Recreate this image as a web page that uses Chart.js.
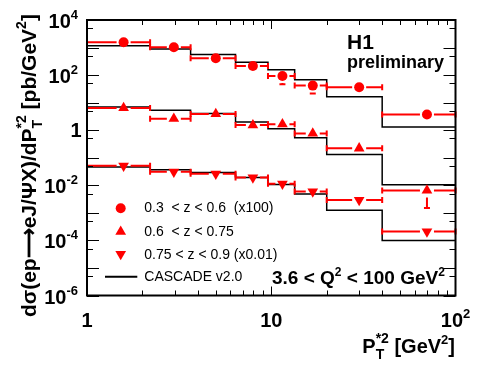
<!DOCTYPE html>
<html>
<head>
<meta charset="utf-8">
<script src="https://cdn.jsdelivr.net/npm/chart.js@4.4.1/dist/chart.umd.min.js"></script>
<style>
    html, body { margin: 0; padding: 0; background: #fff; }
    #wrap { width: 479px; height: 371px; }
</style>
</head>
<body>
<div id="wrap"><canvas id="jpsiChart" width="479" height="371"></canvas></div>
<script>
// P_T*2 bins (GeV^2) and where the points sit inside them
const binEdges = [1, 2.2, 3.65, 6.4, 9.6, 13.4, 20, 40, 100];
const binCentres = [1.58, 2.96, 5.0, 7.95, 11.5, 16.8, 30, 70];

// H1 preliminary data, already scaled like in the legend
const lowZ = [1550, 1020, 410, 215, 93, 41.5, 36, 3.7];          // 0.3 < z < 0.6 (x100)
const lowZErr = [70, 50, 25, 15, 46, 20, 3, 0.3];
const midZ = [6.4, 2.6, 3.9, 1.53, 1.66, 0.76, 0.22, 0.0065];    // 0.6 < z < 0.75
const midZErr = [0.4, 0.2, 0.3, 0.12, 0.15, 0.07, 0.02, 0.005];
const highZ = [0.051, 0.031, 0.026, 0.019, 0.0114, 0.0059, 0.0029, 0.00021]; // 0.75 < z < 0.9 (x0.01)
const highZErr = [0.003, 0.002, 0.002, 0.0015, 0.001, 0.0005, 0.0003, 0.00002];

// CASCADE v2.0 per bin
const cascadeLow = [1170, 890, 560, 293, 158, 68, 16.5, 1.3];
const cascadeMid = [6.9, 5.3, 4.0, 2.0, 1.12, 0.53, 0.13, 0.0105];
const cascadeHigh = [0.046, 0.037, 0.029, 0.019, 0.0108, 0.0048, 0.00123, 0.0001];

// labelled ticks (powers of ten)
const xTickExps = [0, 1, 2];
const yTickExps = [4, 2, 0, -2, -4, -6];

const legendTexts = ['0.3  < z < 0.6  (x100)', '0.6  < z < 0.75', '0.75 < z < 0.9 (x0.01)', 'CASCADE v2.0'];

const RED = '#ff0000';
const FONT = "'Liberation Sans', Arial, Helvetica, sans-serif";
const bold = (px) => 'bold ' + px + 'px ' + FONT;

const series = [
    { values: lowZ, errors: lowZErr },
    { values: midZ, errors: midZErr },
    { values: highZ, errors: highZErr }
];

function histData(vals) {
    // stepped line: one point per left edge plus the last right edge
    return binEdges.map((e, i) => ({ x: e, y: vals[Math.min(i, vals.length - 1)] }));
}
function pointData(vals) {
    return binCentres.map((x, i) => ({ x: x, y: vals[i] }));
}

// text with super/subscripts; a part with stack:true does not advance
function drawRich(ctx, parts, x, y, align) {
    let cx = 0, hold = 0;
    const pos = [];
    parts.forEach(p => {
        ctx.font = p.font;
        const w = ctx.measureText(p.t).width;
        pos.push(cx);
        if (p.stack) { hold = w; }
        else { cx += Math.max(w, hold); hold = 0; }
    });
    let x0 = x;
    if (align === 'center') x0 = x - cx / 2;
    if (align === 'right') x0 = x - cx;
    ctx.textAlign = 'left';
    ctx.textBaseline = 'alphabetic';
    parts.forEach((p, i) => {
        ctx.font = p.font;
        ctx.fillText(p.t, x0 + pos[i], y + (p.dy || 0));
    });
}

function powerLabel(e, big, small, up) {
    if (e === 0) return [{ t: '1', font: bold(big) }];
    if (e === 1) return [{ t: '10', font: bold(big) }];
    return [{ t: '10', font: bold(big) }, { t: String(e), font: bold(small), dy: -up }];
}

function drawMarker(ctx, style, x, y) {
    ctx.beginPath();
    if (style === 'circle') {
        ctx.arc(x, y, 5, 0, Math.PI * 2);
    } else {
        const r = 6.2, s = style === 'up' ? 1 : -1;
        ctx.moveTo(x, y - s * r);
        ctx.lineTo(x - r * 0.866, y + s * r / 2);
        ctx.lineTo(x + r * 0.866, y + s * r / 2);
        ctx.closePath();
    }
    ctx.fill();
}

const errorBarPlugin = {
    id: 'errorBars',
    afterDatasetsDraw(chart) {
        const ctx = chart.ctx, xs = chart.scales.x, ys = chart.scales.y;
        const gap = 7, cap = 3;
        ctx.save();
        ctx.strokeStyle = RED;
        ctx.lineWidth = 2;
        series.forEach(s => {
            s.values.forEach((v, i) => {
                const cx = xs.getPixelForValue(binCentres[i]);
                const cy = ys.getPixelForValue(v);
                const xl = xs.getPixelForValue(binEdges[i]);
                const xr = xs.getPixelForValue(binEdges[i + 1]);
                ctx.beginPath();
                if (cx - gap > xl) { ctx.moveTo(xl, cy); ctx.lineTo(cx - gap, cy); }
                if (cx + gap < xr) { ctx.moveTo(cx + gap, cy); ctx.lineTo(xr, cy); }
                ctx.moveTo(xl, cy - cap); ctx.lineTo(xl, cy + cap);
                ctx.moveTo(xr, cy - cap); ctx.lineTo(xr, cy + cap);
                const yt = ys.getPixelForValue(v + s.errors[i]);
                const yb = ys.getPixelForValue(Math.max(v - s.errors[i], 1e-7));
                if (cy - gap > yt) {
                    ctx.moveTo(cx, cy - gap); ctx.lineTo(cx, yt);
                    ctx.moveTo(cx - cap, yt); ctx.lineTo(cx + cap, yt);
                }
                if (yb > cy + gap) {
                    ctx.moveTo(cx, cy + gap); ctx.lineTo(cx, yb);
                    ctx.moveTo(cx - cap, yb); ctx.lineTo(cx + cap, yb);
                }
                ctx.stroke();
            });
        });
        ctx.restore();
    }
};

const framePlugin = {
    id: 'rootFrame',
    afterDraw(chart) {
        const ctx = chart.ctx, xs = chart.scales.x, ys = chart.scales.y;
        const a = chart.chartArea;
        ctx.save();
        ctx.strokeStyle = '#000';
        ctx.fillStyle = '#000';
        ctx.lineWidth = 2;
        ctx.strokeRect(a.left, a.top, a.right - a.left, a.bottom - a.top);

        // x ticks: 1..9 per decade, inward on bottom and top
        ctx.lineWidth = 1;
        ctx.beginPath();
        [1, 10].forEach(d => {
            for (let k = 1; k <= 9; k++) {
                const px = Math.round(xs.getPixelForValue(k * d)) + 0.5;
                const len = k === 1 ? 9 : 5;
                ctx.moveTo(px, a.bottom); ctx.lineTo(px, a.bottom - len);
                ctx.moveTo(px, a.top); ctx.lineTo(px, a.top + len);
            }
        });
        // y ticks: decades and 5x decades, inward on left and right
        for (let e = -6; e <= 4; e++) {
            const py = Math.round(ys.getPixelForValue(Math.pow(10, e))) + 0.5;
            ctx.moveTo(a.left, py); ctx.lineTo(a.left + 12, py);
            ctx.moveTo(a.right, py); ctx.lineTo(a.right - 12, py);
            if (e < 4) {
                const pm = Math.round(ys.getPixelForValue(5 * Math.pow(10, e))) + 0.5;
                ctx.moveTo(a.left, pm); ctx.lineTo(a.left + 6, pm);
                ctx.moveTo(a.right, pm); ctx.lineTo(a.right - 6, pm);
            }
        }
        ctx.stroke();

        // tick labels
        xTickExps.forEach(e => {
            drawRich(ctx, powerLabel(e, 20, 13, 9), xs.getPixelForValue(Math.pow(10, e)), 327, 'center');
        });
        yTickExps.forEach(e => {
            const py = ys.getPixelForValue(Math.pow(10, e));
            if (e === 0) drawRich(ctx, powerLabel(e, 20, 13, 9), 81.5, py + 7, 'right');
            else drawRich(ctx, powerLabel(e, 20, 13, 9), 78, py + 8, 'right');
        });

        // axis titles
        drawRich(ctx, [
            { t: 'P', font: bold(20) },
            { t: '*2', font: bold(14), dy: -10, stack: true },
            { t: 'T', font: bold(14), dy: 6 },
            { t: ' [GeV', font: bold(20) },
            { t: '2', font: bold(13), dy: -9 },
            { t: ']', font: bold(20) }
        ], 455, 353, 'right');

        ctx.save();
        ctx.translate(36, 317);
        ctx.rotate(-Math.PI / 2);
        drawRich(ctx, [
            { t: 'd\u03c3(ep\u27f6eJ/\u03a8X)/dP', font: bold(21) },
            { t: '*2', font: bold(14), dy: -10, stack: true },
            { t: 'T', font: bold(14), dy: 6 },
            { t: ' [pb/GeV', font: bold(21) },
            { t: '2', font: bold(14), dy: -10 },
            { t: ']', font: bold(21) }
        ], 0, 0, 'left');
        ctx.restore();

        // H1 label
        drawRich(ctx, [{ t: 'H1', font: bold(21) }], 347, 48.5, 'left');
        drawRich(ctx, [{ t: 'preliminary', font: bold(18) }], 347, 67.5, 'left');

        // legend
        ctx.fillStyle = RED;
        drawMarker(ctx, 'circle', 120.7, 208.3);
        drawMarker(ctx, 'up', 120.7, 231.7);
        drawMarker(ctx, 'down', 120.7, 254);
        ctx.strokeStyle = '#000';
        ctx.lineWidth = 2;
        ctx.beginPath();
        ctx.moveTo(105, 276.7); ctx.lineTo(137.3, 276.7);
        ctx.stroke();
        ctx.fillStyle = '#000';
        ctx.font = '14px ' + FONT;
        ctx.textAlign = 'left';
        ctx.textBaseline = 'middle';
        [208.5, 232, 255, 277].forEach((y, i) => ctx.fillText(legendTexts[i], 144.3, y));

        drawRich(ctx, [
            { t: '3.6 < Q', font: bold(19) },
            { t: '2', font: bold(12), dy: -8 },
            { t: ' < 100 GeV', font: bold(19) },
            { t: '2', font: bold(12), dy: -8 }
        ], 272, 284, 'left');
        ctx.restore();
    }
};

const ctx = document.getElementById('jpsiChart').getContext('2d');
const jpsiChart = new Chart(ctx, {
    type: 'scatter',
    data: {
        datasets: [
            { type: 'scatter', data: pointData(lowZ), pointStyle: 'circle', pointRadius: 5, pointBackgroundColor: RED, pointBorderWidth: 0, order: 0 },
            { type: 'scatter', data: pointData(midZ), pointStyle: 'triangle', pointRadius: 6.2, pointBackgroundColor: RED, pointBorderWidth: 0, order: 0 },
            { type: 'scatter', data: pointData(highZ), pointStyle: 'triangle', rotation: 180, pointRadius: 6.2, pointBackgroundColor: RED, pointBorderWidth: 0, order: 0 },
            { type: 'line', data: histData(cascadeLow), stepped: true, borderColor: '#000', borderWidth: 1.5, pointRadius: 0, fill: false, order: 1 },
            { type: 'line', data: histData(cascadeMid), stepped: true, borderColor: '#000', borderWidth: 1.5, pointRadius: 0, fill: false, order: 1 },
            { type: 'line', data: histData(cascadeHigh), stepped: true, borderColor: '#000', borderWidth: 1.5, pointRadius: 0, fill: false, order: 1 }
        ]
    },
    options: {
        responsive: false,
        animation: false,
        events: [],
        layout: { padding: { left: 87, top: 20, right: 23.5, bottom: 75.5 } },
        scales: {
            x: { type: 'logarithmic', min: 1, max: 100, display: false },
            y: { type: 'logarithmic', min: 1e-6, max: 1e4, display: false }
        },
        plugins: { legend: { display: false }, tooltip: { enabled: false } }
    },
    plugins: [errorBarPlugin, framePlugin]
});
</script>
</body>
</html>
